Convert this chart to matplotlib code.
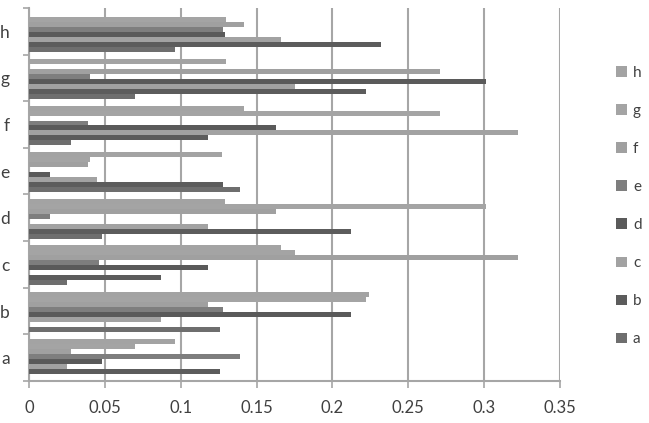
import matplotlib
matplotlib.use("Agg")
import matplotlib.pyplot as plt
import numpy as np
from matplotlib.patches import Patch

categories = ["a", "b", "c", "d", "e", "f", "g", "h"]
series_names = ["a", "b", "c", "d", "e", "f", "g", "h"]

# values[series] per category a..h
s_a = [0.000, 0.126, 0.025, 0.048, 0.139, 0.028, 0.070, 0.096]
s_b = [0.126, 0.000, 0.087, 0.212, 0.128, 0.118, 0.222, 0.232]
s_c = [0.025, 0.087, 0.000, 0.118, 0.045, 0.322, 0.175, 0.166]
s_d = [0.048, 0.212, 0.118, 0.000, 0.014, 0.163, 0.301, 0.129]
s_e = [0.139, 0.128, 0.046, 0.014, 0.000, 0.039, 0.040, 0.128]
s_f = [0.028, 0.118, 0.322, 0.163, 0.039, 0.000, 0.271, 0.142]
s_g = [0.070, 0.222, 0.175, 0.301, 0.040, 0.271, 0.000, 0.130]
s_h = [0.096, 0.224, 0.166, 0.129, 0.127, 0.142, 0.130, 0.000]
series_values = [s_a, s_b, s_c, s_d, s_e, s_f, s_g, s_h]

colors = ["#6e6e6e", "#5c5c5c", "#a2a2a2", "#5a5a5a", "#7e7e7e", "#a0a0a0", "#a4a4a4", "#a3a3a3"]

x_ticks = [0, 0.05, 0.1, 0.15, 0.2, 0.25, 0.3, 0.35]
x_labels = ["0", "0.05", "0.1", "0.15", "0.2", "0.25", "0.3", "0.35"]

plt.rcParams['font.family'] = ['Lato', 'DejaVu Sans']

fig = plt.figure(figsize=(6.49, 4.23), dpi=100)
ax = fig.add_axes([29/649, 1 - 381/423, 531/649, 373/423])

n = len(series_names)
bh = 0.107
y = np.arange(len(categories))
handles = []
for j, (name, vals, col) in enumerate(zip(series_names, series_values, colors)):
    pos = y - n * bh / 2 + (j + 0.5) * bh - 0.02
    ax.barh(pos, vals, height=bh, color=col, edgecolor='none', zorder=3)
    handles.append(Patch(facecolor=col, edgecolor='none', label=name))

ax.set_xlim(0, 0.35)
ax.set_ylim(-0.5, len(categories) - 0.5)
ax.set_xticks(x_ticks)
ax.set_xticklabels(x_labels)
ax.set_yticks(y)
ax.set_yticklabels(categories)
ax.set_yticks(np.arange(-0.5, len(categories), 1.0), minor=True)

gc = "#a6a6a6"
ax.grid(axis='x', color=gc, linewidth=1.5, zorder=0)
ax.set_axisbelow(True)
for s in ['top', 'right']:
    ax.spines[s].set_visible(False)
for s in ['left', 'bottom']:
    ax.spines[s].set_color(gc)
    ax.spines[s].set_linewidth(1.5)

ax.tick_params(axis='x', which='major', length=5, width=1.2, color=gc, pad=9,
               labelsize=12, labelcolor='#404040')
ax.tick_params(axis='y', which='major', length=0, pad=14, labelsize=12.5, labelcolor='#404040')
ax.tick_params(axis='y', which='minor', length=4, width=1.2, color=gc)

leg = fig.legend(handles=handles[::-1], loc='center left', bbox_to_anchor=(0.94, 0.513),
                 frameon=False, fontsize=11, labelspacing=1.58, handlelength=0.7,
                 handleheight=0.7, handletextpad=0.4, borderaxespad=0)
for t in leg.get_texts():
    t.set_color('#404040')

fig.savefig("out.png", dpi=100)
